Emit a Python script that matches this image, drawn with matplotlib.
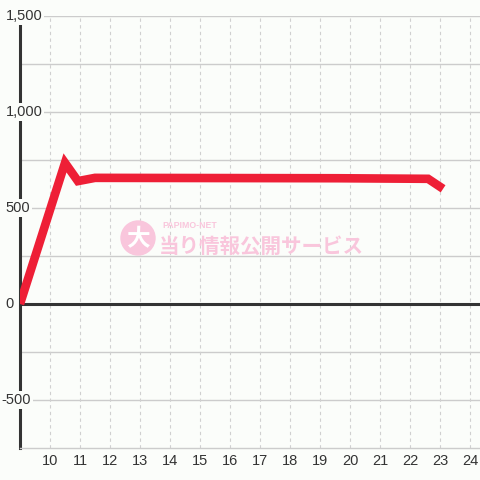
import matplotlib
matplotlib.use("Agg")
import matplotlib.pyplot as plt
from matplotlib.patches import Circle

# data
hours = [9, 10.5, 10.93, 11.5, 19.6, 22.6, 23.1]
values = [0, 735, 640, 657, 655, 652, 600]
yticks = [1500, 1000, 500, 0, -500]
ytick_labels = ["1,500", "1,000", "500", "0", "-500"]
xticks = list(range(10, 25))

bg = "#fbfdfa"
plt.rcParams["font.family"] = ["Liberation Sans", "DejaVu Sans"]

fig = plt.figure(figsize=(4.8, 4.8), dpi=100, facecolor=bg)
ax = fig.add_axes([20 / 480, 1 - 448 / 480, 1 - 20 / 480, 432 / 480])
ax.set_facecolor(bg)
ax.set_xlim(9, 24.33)
ax.set_ylim(-750, 1500)

# grid
for y in range(-500, 1501, 250):
    ax.axhline(y, color="#cccccc", lw=1, zorder=1)
for x in xticks:
    ax.axvline(x, color="#d0d0d0", lw=0.8, ls=(0, (3, 3)), zorder=1)
ax.axhline(0, color="#333333", lw=2.2, zorder=2)

for s in ["top", "right"]:
    ax.spines[s].set_visible(False)
ax.spines["bottom"].set_color("#cccccc")
ax.spines["bottom"].set_linewidth(1)
ax.spines["left"].set_color("#333333")
ax.spines["left"].set_linewidth(2.2)
ax.spines["left"].set_bounds(-750, 1458)
ax.spines["left"].set_zorder(2)

ax.set_xticks(xticks)
ax.set_xticklabels([str(x) for x in xticks], fontsize=10.5, color="#333333")
ax.tick_params(axis="x", length=0, pad=4)
ax.set_yticks([])

# y labels drawn over the spine with a background box
for v, lab in zip(yticks, ytick_labels):
    off = -10.5 if not lab.startswith("-") else -13.5
    ax.annotate(lab, xy=(0, v), xycoords=("axes fraction", "data"),
                xytext=(off, 0), textcoords="offset points",
                ha="left", va="center", fontsize=10.5, color="#333333",
                bbox=dict(boxstyle="square,pad=0.15", fc=bg, ec="none"),
                zorder=5, annotation_clip=False)

# watermark
wm = "#f9c6dc"
circ = Circle((138, 480 - 238), 17, transform=None, color=wm, zorder=3)
fig.patches.append(circ)
fig.text(138 / 480, 1 - 239 / 480, "大", fontsize=17, fontweight="bold", color="white",
         family=["Noto Sans CJK JP"], ha="center", va="center", zorder=4)
fig.text(162 / 480, 1 - 226 / 480, "PAPIMO-NET", fontsize=6.3, fontweight="bold", color=wm,
         ha="left", va="center", zorder=4)
fig.text(159 / 480, 1 - 246 / 480, "当り情報公開サービス", fontsize=14.8, fontweight="bold", color=wm,
         family=["Noto Sans CJK JP"], ha="left", va="center", zorder=4)

ax.plot(hours, values, color="#ee1f36", lw=6.2, solid_joinstyle="miter",
        solid_capstyle="butt", zorder=6)

fig.savefig("out.png", dpi=100, facecolor=bg)
